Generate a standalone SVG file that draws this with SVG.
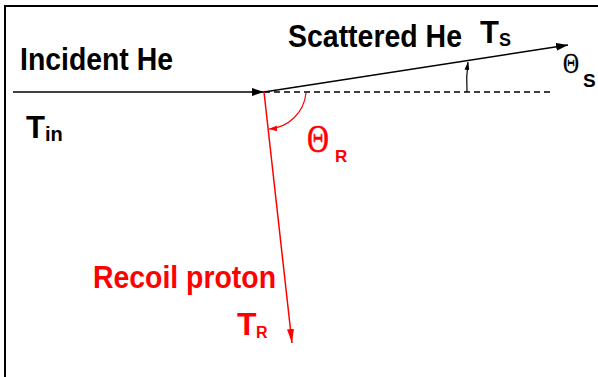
<svg xmlns="http://www.w3.org/2000/svg" width="598" height="377" viewBox="0 0 598 377">
<style>
.lbl{font-family:"Liberation Sans",Arial,sans-serif;font-weight:bold}
.th{font-family:"Liberation Serif","Times New Roman",serif;font-weight:normal}
.blk{fill:#000}
.red{fill:#ff0000}
.ln{fill:none;stroke:#000;stroke-width:1.6}
.rln{fill:none;stroke:#ff0000;stroke-width:1.5}
</style>
<defs>
<marker id="ahB" markerUnits="userSpaceOnUse" markerWidth="12" markerHeight="8" refX="12" refY="4" orient="auto"><path d="M0,0 L12,4 L0,8 z" fill="#000"/></marker>
<marker id="ahBs" markerUnits="userSpaceOnUse" markerWidth="8" markerHeight="5" refX="8" refY="2.5" orient="auto"><path d="M0,0 L8,2.5 L0,5 z" fill="#000"/></marker>
<marker id="ahR" markerUnits="userSpaceOnUse" markerWidth="14" markerHeight="7" refX="14" refY="3.5" orient="auto"><path d="M0,0 L14,3.5 L0,7 z" fill="#ff0000"/></marker>
<marker id="ahRs" markerUnits="userSpaceOnUse" markerWidth="8" markerHeight="6" refX="8" refY="3" orient="auto"><path d="M0,0 L8,3 L0,6 z" fill="#ff0000"/></marker>
</defs>
<rect width="598" height="377" fill="#fff"/>
<path id="frame" d="M5,377 V6 H598" fill="none" stroke="#000" stroke-width="2"/>
<g id="connectors">
<line class="ln" x1="13" y1="92" x2="264" y2="92" marker-end="url(#ahB)"/>
<line class="ln" x1="264" y1="92" x2="568" y2="45" marker-end="url(#ahB)"/>
<line x1="264" y1="92" x2="552" y2="92" stroke="#000" stroke-width="1.3" stroke-dasharray="6,4"/>
<path class="ln" style="stroke-width:1.2" d="M467,92 Q466,77 468,62" marker-end="url(#ahBs)"/>
<line class="rln" x1="264" y1="92" x2="292" y2="343" marker-end="url(#ahR)"/>
<path class="rln" style="stroke-width:1.2" d="M306,93 A40 40 0 0 1 269,129" marker-end="url(#ahRs)"/>
</g>
<g id="incident">
<text class="lbl blk" x="20" y="70" font-size="31" textLength="153" lengthAdjust="spacingAndGlyphs">Incident He</text>
<text class="lbl blk" x="26" y="138" font-size="31">T<tspan font-size="20" dy="3">in</tspan></text>
</g>
<g id="scattered">
<text class="lbl blk" x="288" y="47" font-size="31" textLength="174" lengthAdjust="spacingAndGlyphs">Scattered He</text>
<text class="lbl blk" font-size="31"><tspan x="480" y="43">T</tspan><tspan x="499" y="46" font-size="18">S</tspan></text>
<text class="blk"><tspan class="th" x="563" y="73" font-size="29" stroke="#000" stroke-width="0.4" textLength="16" lengthAdjust="spacingAndGlyphs">Θ</tspan><tspan class="lbl" x="583" y="87" font-size="19">S</tspan></text>
</g>
<g id="recoil">
<text class="lbl red" x="93" y="288" font-size="32" textLength="183" lengthAdjust="spacingAndGlyphs">Recoil proton</text>
<text class="lbl red" font-size="32"><tspan x="237" y="335">T</tspan><tspan x="256" y="338" font-size="16">R</tspan></text>
<text class="red"><tspan class="th" x="307" y="152" font-size="40" stroke="#ff0000" stroke-width="0.5" textLength="22" lengthAdjust="spacingAndGlyphs">Θ</tspan><tspan class="lbl" x="335" y="162" font-size="17">R</tspan></text>
</g>
</svg>
